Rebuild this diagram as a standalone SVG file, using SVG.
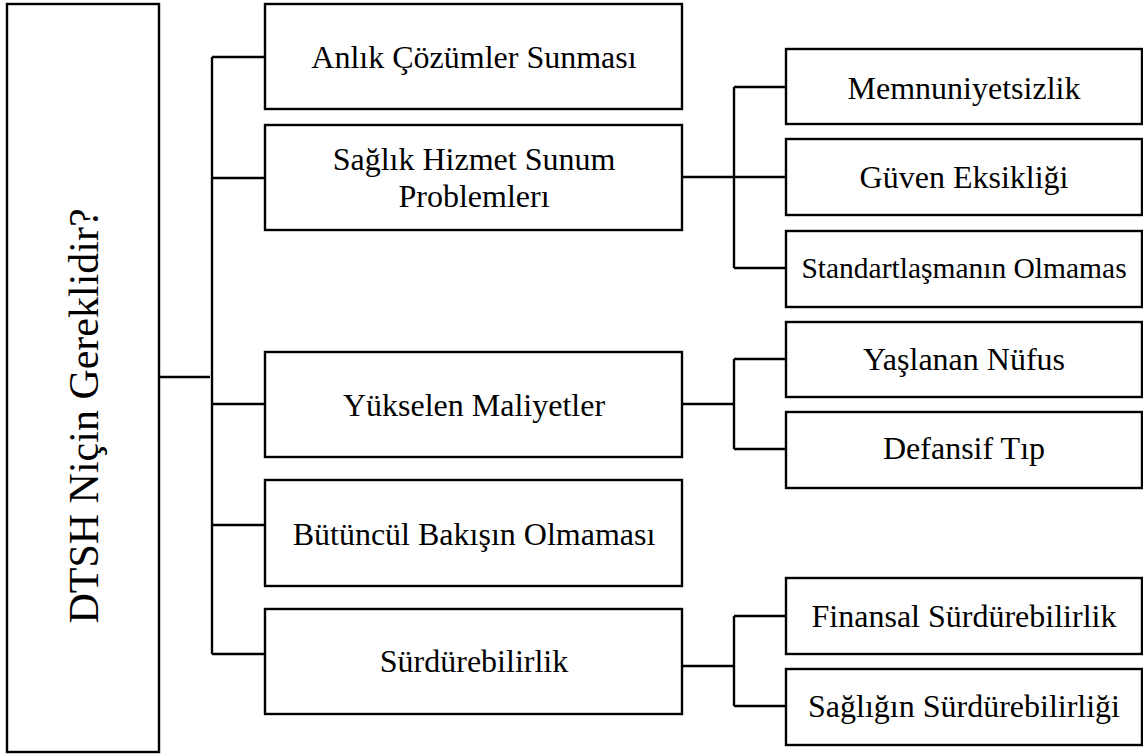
<svg xmlns="http://www.w3.org/2000/svg" width="1143" height="756" viewBox="0 0 1143 756">
  <style>
    .box { fill: #ffffff; stroke: #000000; stroke-width: 2.4; }
    .wire { fill: none; stroke: #000000; stroke-width: 2.4; }
    .lbl { font-family: "Liberation Serif", "Times New Roman", serif; fill: #000000; text-anchor: middle; }
    .mid { font-size: 32px; }
    .leaf { font-size: 32px; }
    .narrow { font-size: 29.5px; }
    .root { font-size: 42px; }
  </style>
  <rect width="1143" height="756" fill="#ffffff"/>

  <!-- connectors -->
  <g id="connectors">
    <path class="wire" d="M159,377 H210"/>
    <path class="wire" d="M212,57 V654"/>
    <path class="wire" d="M212,57 H265 M212,178 H265 M212,404 H265 M212,525 H265 M212,654 H265"/>
    <path class="wire" d="M682,177 H734 M734,87 V268 M734,87 H786 M734,177 H786 M734,268 H786"/>
    <path class="wire" d="M682,404 H734 M734,359 V449 M734,359 H786 M734,449 H786"/>
    <path class="wire" d="M682,666 H734 M734,616 V706 M734,616 H786 M734,706 H786"/>
  </g>

  <!-- root -->
  <g id="root">
    <rect class="box" x="7" y="4" width="152" height="748"/>
    <text class="lbl root" transform="translate(98,416) rotate(-90)">DTSH Niçin Gereklidir?</text>
  </g>

  <!-- first level -->
  <g id="n-anlik">
    <rect class="box" x="265" y="4" width="417" height="105"/>
    <text class="lbl mid" x="474" y="68">Anlık Çözümler Sunması</text>
  </g>
  <g id="n-saglik">
    <rect class="box" x="265" y="125" width="417" height="105"/>
    <text class="lbl mid" x="474" y="170">Sağlık Hizmet Sunum</text>
    <text class="lbl mid" x="474" y="207">Problemlerı</text>
  </g>
  <g id="n-maliyet">
    <rect class="box" x="265" y="352" width="417" height="105"/>
    <text class="lbl mid" x="474" y="416">Yükselen Maliyetler</text>
  </g>
  <g id="n-butuncul">
    <rect class="box" x="265" y="480" width="417" height="106"/>
    <text class="lbl mid" x="474" y="545">Bütüncül Bakışın Olmaması</text>
  </g>
  <g id="n-surdur">
    <rect class="box" x="265" y="609" width="417" height="105"/>
    <text class="lbl mid" x="474" y="672">Sürdürebilirlik</text>
  </g>

  <!-- second level -->
  <g id="n-memnun">
    <rect class="box" x="786" y="49" width="356" height="75"/>
    <text class="lbl leaf" x="964" y="99">Memnuniyetsizlik</text>
  </g>
  <g id="n-guven">
    <rect class="box" x="786" y="139" width="356" height="76"/>
    <text class="lbl leaf" x="964" y="188">Güven Eksikliği</text>
  </g>
  <g id="n-standart">
    <rect class="box" x="786" y="231" width="356" height="76"/>
    <text class="lbl leaf narrow" x="964" y="278">Standartlaşmanın Olmamas</text>
  </g>
  <g id="n-yaslanan">
    <rect class="box" x="786" y="322" width="356" height="75"/>
    <text class="lbl leaf" x="964" y="370">Yaşlanan Nüfus</text>
  </g>
  <g id="n-defansif">
    <rect class="box" x="786" y="412" width="356" height="76"/>
    <text class="lbl leaf" x="964" y="459">Defansif Tıp</text>
  </g>
  <g id="n-finansal">
    <rect class="box" x="786" y="578" width="356" height="76"/>
    <text class="lbl leaf" x="964" y="627">Finansal Sürdürebilirlik</text>
  </g>
  <g id="n-saglikin">
    <rect class="box" x="786" y="669" width="356" height="76"/>
    <text class="lbl leaf" x="964" y="717">Sağlığın Sürdürebilirliği</text>
  </g>
</svg>
